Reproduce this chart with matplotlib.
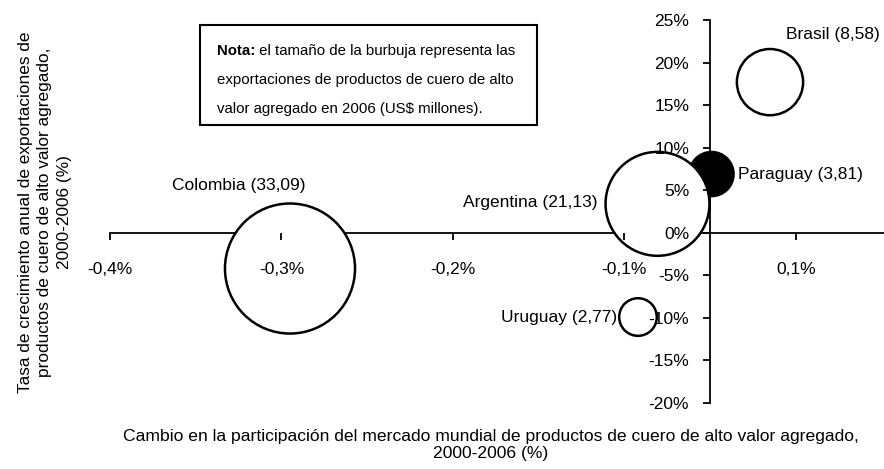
import numpy as np
import matplotlib.pyplot as plt
from matplotlib.patches import Rectangle
from matplotlib.ticker import FixedLocator, FuncFormatter

# datos de las burbujas
paises = ['Brasil', 'Paraguay', 'Argentina', 'Colombia', 'Uruguay']
cambio_part = [0.040, 0.001, -0.035, -0.28, -0.048]   # eje x (%)
crecimiento = [17.7, 6.9, 3.4, -4.2, -9.9]            # eje y (%)
export_2006 = [8.58, 3.81, 21.13, 33.09, 2.77]        # US$ millones
relleno = ['white', 'black', 'white', 'white', 'white']

# posicion de las etiquetas (offset en puntos)
offsets = {
    'Brasil': (45, 34, 'center'),
    'Paraguay': (19, 0, 'left'),
    'Argentina': (-43, 1, 'right'),
    'Colombia': (-37, 60, 'center'),
    'Uruguay': (-15, 0, 'right'),
}

plt.rcParams['font.family'] = ['Liberation Sans', 'DejaVu Sans']

fig = plt.figure(figsize=(8.84, 4.69), dpi=100)
ax = fig.add_axes([110 / 884, 66 / 469, 774 / 884, 383 / 469])

xmin, xmax = -0.4, 0.116
ax.set_xlim(xmin, xmax)
ax.set_ylim(-20, 25)

# burbujas: area proporcional a las exportaciones
tam = [v * 265 for v in export_2006]
ax.scatter(cambio_part, crecimiento, s=tam, c=relleno, edgecolors='black',
           linewidths=1.8, zorder=3)

for p, x, y, v in zip(paises, cambio_part, crecimiento, export_2006):
    dx, dy, ha = offsets[p]
    txt = f"{p} ({v:.2f})".replace('.', ',')
    ax.annotate(txt, (x, y), xytext=(dx, dy), textcoords='offset points',
                ha=ha, va='center', fontsize=12.5, zorder=5)

# ejes cruzando en cero
for s in ['top', 'right']:
    ax.spines[s].set_visible(False)
ax.spines['left'].set_position(('data', 0))
ax.spines['bottom'].set_position(('data', 0))
ax.spines['left'].set_linewidth(1.3)
ax.spines['bottom'].set_linewidth(1.3)
ax.spines['left'].set_zorder(2)
ax.spines['bottom'].set_zorder(2)
ax.xaxis.set_zorder(4)
ax.yaxis.set_zorder(4)

paso = 0.4 / 3.5
ax.xaxis.set_major_locator(FixedLocator(np.arange(xmin, xmax, paso)))
ax.xaxis.set_major_formatter(FuncFormatter(lambda v, p: f"{v:.1f}%".replace('.', ',')))
ax.yaxis.set_major_locator(FixedLocator(np.arange(-20, 26, 5)))
ax.yaxis.set_major_formatter(FuncFormatter(lambda v, p: f"{v:.0f}%"))
ax.tick_params(axis='x', direction='out', length=5, width=1.3, pad=16, labelsize=12.5)
ax.tick_params(axis='y', direction='out', length=5, width=1.3, pad=10, labelsize=12.5)

# titulos de ejes
fig.text(45 / 884, 1 - 212 / 469,
         "Tasa de crecimiento anual de exportaciones de\n"
         "productos de cuero de alto valor agregado,\n2000-2006 (%)",
         rotation=90, ha='center', va='center', multialignment='center',
         fontsize=12.4, linespacing=1.4)
fig.text(491 / 884, 1 - 445 / 469,
         "Cambio en la participación del mercado mundial de productos de cuero de alto valor agregado,\n"
         "2000-2006 (%)",
         ha='center', va='center', multialignment='center', fontsize=12.6, linespacing=1.1)

# nota en recuadro
fs_nota = 10.8
fig.add_artist(Rectangle((200 / 884, 1 - 125 / 469), 337 / 884, 100 / 469,
                         transform=fig.transFigure, fc='white', ec='black', lw=1.5,
                         zorder=5))
t = fig.text(217 / 884, 1 - 55 / 469, "Nota:", fontsize=fs_nota, fontweight='bold',
             ha='left', va='baseline', zorder=6)
fig.canvas.draw()
bb = t.get_window_extent()
fig.text(bb.x1 / 884, 1 - 55 / 469, " el tamaño de la burbuja representa las",
         fontsize=fs_nota, ha='left', va='baseline', zorder=6)
fig.text(217 / 884, 1 - 84 / 469, "exportaciones de productos de cuero de alto",
         fontsize=fs_nota, ha='left', va='baseline', zorder=6)
fig.text(217 / 884, 1 - 113 / 469, "valor agregado en 2006 (US$ millones).",
         fontsize=fs_nota, ha='left', va='baseline', zorder=6)

fig.savefig('out.png', dpi=100)
